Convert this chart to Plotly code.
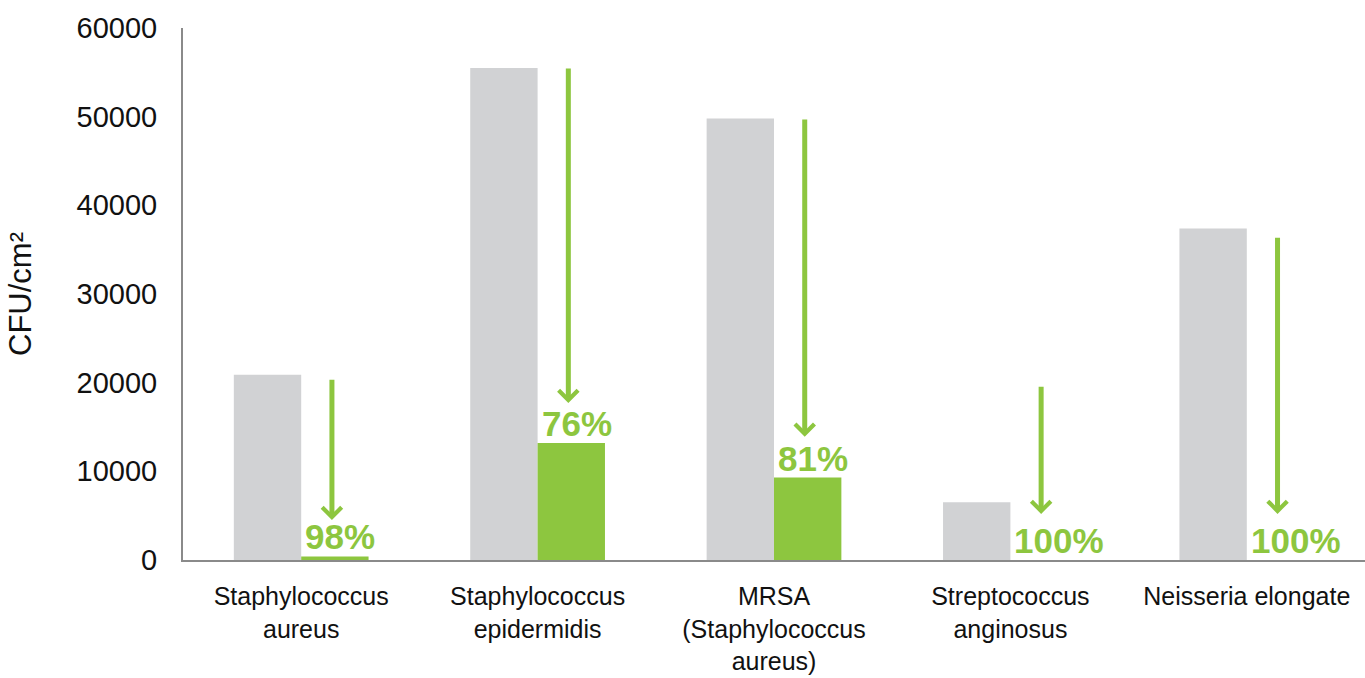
import plotly.graph_objects as go

categories = [
    "Staphylococcus<br>aureus",
    "Staphylococcus<br>epidermidis",
    "MRSA<br>(Staphylococcus<br>aureus)",
    "Streptococcus<br>anginosus",
    "Neisseria elongate",
]
before_values = [20900, 55500, 49800, 6500, 37400]
after_values = [400, 13200, 9300, 0, 0]
reduction_pct = [98, 76, 81, 100, 100]
arrow_start = [20500, 55600, 49850, 19700, 36500]
arrow_end = [4500, 17700, 13900, 5200, 5200]
y_ticks = [0, 10000, 20000, 30000, 40000, 50000, 60000]

GRAY = "#D1D2D4"
GREEN = "#8DC63F"
FONT = "Liberation Sans, Arial, sans-serif"

idx = list(range(len(categories)))

fig = go.Figure()
fig.add_trace(go.Bar(x=idx, y=before_values, marker=dict(color=GRAY, line=dict(width=0)),
                     name="Before", showlegend=False))
fig.add_trace(go.Bar(x=idx, y=after_values, marker=dict(color=GREEN, line=dict(width=0)),
                     name="After", showlegend=False))

annotations = []
for i in idx:
    xa = i + 0.13
    annotations.append(dict(
        x=xa, y=arrow_end[i], ax=xa, ay=arrow_start[i],
        xref="x", yref="y", axref="x", ayref="y",
        text="", showarrow=True, arrowhead=4, arrowsize=0.75,
        arrowwidth=5, arrowcolor=GREEN, standoff=0,
    ))
    annotations.append(dict(
        x=i, y=after_values[i], xref="x", yref="y",
        text=f"<b>{reduction_pct[i]}%</b>", showarrow=False,
        xanchor="left", yanchor="bottom", xshift=2, yshift=-2,
        font=dict(family=FONT, size=35, color=GREEN),
    ))

fig.update_layout(
    width=1365, height=678,
    margin=dict(l=183, r=0, t=28, b=118),
    paper_bgcolor="white", plot_bgcolor="white",
    barmode="group", bargap=0.43, bargroupgap=0,
    annotations=annotations,
    font=dict(family=FONT, color="#111111"),
    xaxis=dict(
        tickmode="array", tickvals=idx, ticktext=categories,
        range=[-0.5, len(categories) - 0.5],
        showline=True, linecolor="#8a8a8a", linewidth=2,
        ticks="", showgrid=False, zeroline=False,
        tickfont=dict(family=FONT, size=25, color="#111111"),
        ticklabelstandoff=13,
    ),
    yaxis=dict(
        range=[0, 60000], tickvals=y_ticks,
        ticktext=[str(v) for v in y_ticks],
        showline=True, linecolor="#8a8a8a", linewidth=2,
        ticks="", showgrid=False, zeroline=False,
        tickfont=dict(family=FONT, size=29, color="#111111"),
        ticklabelstandoff=18,
        title=dict(text="CFU/cm²", font=dict(family=FONT, size=31, color="#111111"), standoff=36),
    ),
)

fig.write_html("out.html")
